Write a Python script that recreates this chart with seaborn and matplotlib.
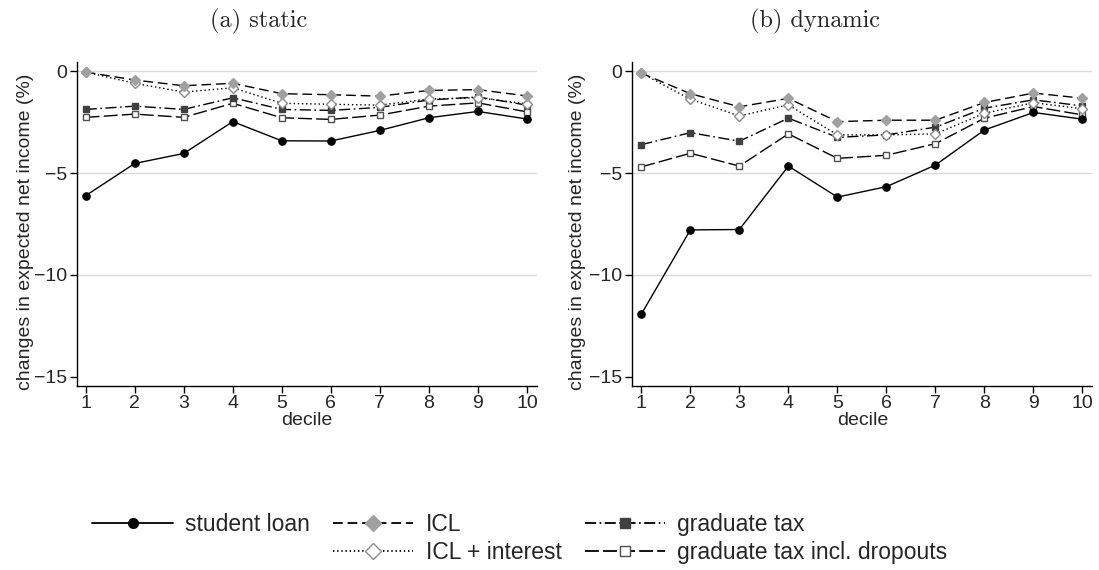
import matplotlib
matplotlib.use("Agg")
import matplotlib.pyplot as plt
from matplotlib.lines import Line2D
import seaborn as sns
import pandas as pd

# Deciles of the income distribution
deciles = [1, 2, 3, 4, 5, 6, 7, 8, 9, 10]

# (a) static: changes in expected net income (%)
student_loan_static = [-6.11, -4.53, -4.04, -2.48, -3.42, -3.43, -2.91, -2.29, -1.98, -2.35]
icl_static = [-0.05, -0.44, -0.72, -0.60, -1.11, -1.16, -1.23, -0.95, -0.91, -1.22]
icl_interest_static = [-0.05, -0.60, -1.03, -0.82, -1.58, -1.63, -1.67, -1.37, -1.31, -1.60]
grad_tax_static = [-1.88, -1.72, -1.88, -1.31, -1.88, -1.93, -1.78, -1.42, -1.27, -1.67]
grad_tax_drop_static = [-2.27, -2.11, -2.27, -1.58, -2.29, -2.37, -2.16, -1.72, -1.56, -2.00]

# (b) dynamic: changes in expected net income (%)
student_loan_dynamic = [-11.92, -7.79, -7.77, -4.66, -6.18, -5.67, -4.61, -2.89, -2.03, -2.36]
icl_dynamic = [-0.10, -1.11, -1.75, -1.34, -2.48, -2.41, -2.41, -1.54, -1.08, -1.33]
icl_interest_dynamic = [-0.10, -1.38, -2.20, -1.66, -3.13, -3.13, -3.08, -2.07, -1.55, -1.85]
grad_tax_dynamic = [-3.61, -3.02, -3.44, -2.31, -3.25, -3.13, -2.75, -1.82, -1.41, -1.71]
grad_tax_drop_dynamic = [-4.70, -4.03, -4.66, -3.08, -4.28, -4.13, -3.56, -2.31, -1.74, -2.15]

series_labels = ["student loan", "ICL", "ICL + interest", "graduate tax",
                 "graduate tax incl. dropouts"]
panel_titles = ["(a) static", "(b) dynamic"]
y_ticks = [0, -5, -10, -15]

sns.set_theme(style="white")
plt.rcParams["font.family"] = ["Liberation Sans", "DejaVu Sans"]
plt.rcParams["lines.scale_dashes"] = False

# Visual style of each series: line dash, marker, face and edge colours
styles = {
    "student loan": dict(ls="-", marker="o", ms=5.2, lms=7.0, mfc="black", mec="black"),
    "ICL": dict(ls=(0, (7, 3.5)), marker="D", ms=5.6, lms=8.0, mfc="#a0a0a0", mec="#a0a0a0"),
    "ICL + interest": dict(ls=(0, (1, 2)), marker="D", ms=5.6, lms=8.0, mfc="white", mec="#8c8c8c"),
    "graduate tax": dict(ls=(0, (8, 2.5, 1.2, 2.5)), marker="s", ms=5.0, lms=6.5, mfc="#404040", mec="#404040"),
    "graduate tax incl. dropouts": dict(ls=(0, (10, 3)), marker="s", ms=5.0, lms=6.5, mfc="white", mec="#505050"),
}

panels = [
    [student_loan_static, icl_static, icl_interest_static, grad_tax_static, grad_tax_drop_static],
    [student_loan_dynamic, icl_dynamic, icl_interest_dynamic, grad_tax_dynamic, grad_tax_drop_dynamic],
]

fig = plt.figure(figsize=(10.99, 5.70), dpi=100)
ax_rects = [
    [76.7 / 1099, 1 - 385.7 / 570, 460 / 1099, 323.4 / 570],
    [632.3 / 1099, 1 - 385.7 / 570, 460 / 1099, 323.4 / 570],
]
title_x = [259 / 1099, 815 / 1099]
ylabel_x = [-0.093, -0.100]

for p, (rect, values) in enumerate(zip(ax_rects, panels)):
    ax = fig.add_axes(rect)
    for y_line in [0, -5, -10]:
        ax.axhline(y_line, color="#dadada", lw=1.0, zorder=0)
    # draw in reverse so the student loan line sits on top
    for label, vals in reversed(list(zip(series_labels, values))):
        st = styles[label]
        df = pd.DataFrame({"decile": deciles, "change": vals})
        sns.lineplot(data=df, x="decile", y="change", ax=ax, color="black",
                     linestyle=st["ls"], lw=1.0, marker=st["marker"],
                     markersize=st["ms"], markerfacecolor=st["mfc"],
                     markeredgecolor=st["mec"], markeredgewidth=1.0,
                     legend=False)
    ax.set_xlim(0.816, 10.2)
    ax.set_ylim(-15.43, 0.43)
    ax.set_xticks(deciles)
    ax.set_yticks(y_ticks)
    ax.set_yticklabels([f"{t}".replace("-", "\u2212") for t in y_ticks])
    ax.tick_params(axis="both", which="major", direction="out", length=5,
                   width=1, color="black", labelsize=14, pad=2,
                   left=True, bottom=True)
    for side in ["top", "right"]:
        ax.spines[side].set_visible(False)
    for side in ["left", "bottom"]:
        ax.spines[side].set_color("black")
        ax.spines[side].set_linewidth(1.0)
    ax.set_xlabel("decile", fontsize=14, labelpad=0)
    ax.set_ylabel("changes in expected net income (%)", fontsize=14)
    ax.yaxis.set_label_coords(ylabel_x[p], 0.475)
    fig.text(title_x[p], 1 - 21 / 570, panel_titles[p], family="cmr10",
             fontsize=17.5, ha="center", va="center")

# Legend: three columns, the first with an empty second row
handles = []
labels = []
order = ["student loan", None, "ICL", "ICL + interest", "graduate tax",
         "graduate tax incl. dropouts"]
for name in order:
    if name is None:
        handles.append(Line2D([], [], linestyle="none", marker=None))
        labels.append("")
        continue
    st = styles[name]
    handles.append(Line2D([], [], color="black", linestyle=st["ls"], lw=1.3,
                          marker=st["marker"], markersize=st["lms"],
                          markerfacecolor=st["mfc"], markeredgecolor=st["mec"],
                          markeredgewidth=1.0))
    labels.append(name)

fig.legend(handles, labels, ncol=3, loc="center",
           bbox_to_anchor=(520 / 1099, 1 - 538.5 / 570), frameon=False,
           fontsize=16.5, handlelength=3.5, handletextpad=0.55,
           columnspacing=1.0, labelspacing=0.25, numpoints=1,
           borderpad=0)

fig.savefig("out.png", dpi=100, facecolor="white")
